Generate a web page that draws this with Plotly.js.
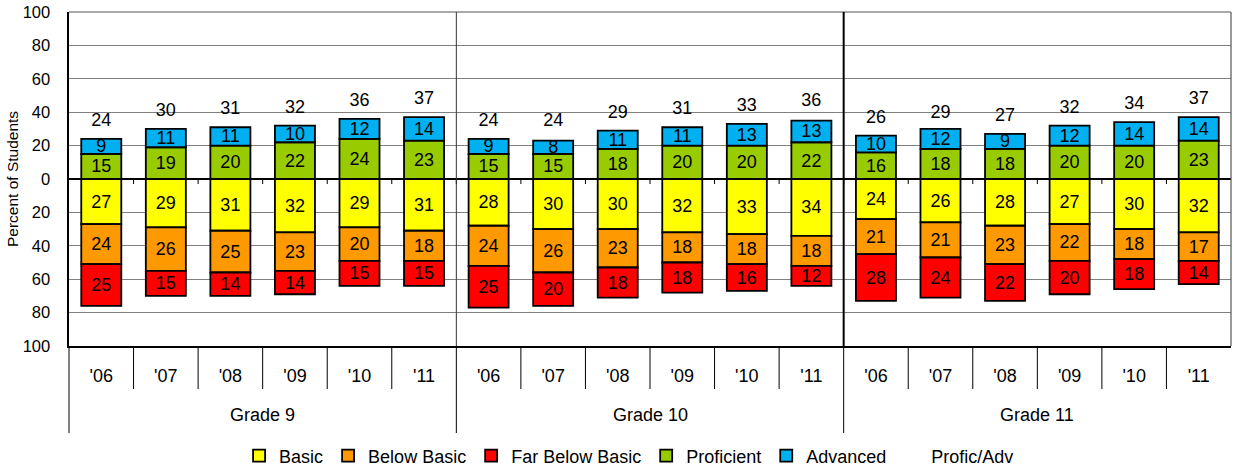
<!DOCTYPE html>
<html>
<head>
<meta charset="utf-8">
<script src="https://cdn.plot.ly/plotly-3.0.1.min.js"></script>
<style>
html,body{margin:0;padding:0;background:#fff;}
#chart{width:1233px;height:467px;}
</style>
</head>
<body>
<div id="chart"></div>
<script>
// ---- data ----
const grades = ['Grade 9', 'Grade 10', 'Grade 11'];
const years = ["'06", "'07", "'08", "'09", "'10", "'11"];
const basic =         [27, 29, 31, 32, 29, 31,  28, 30, 30, 32, 33, 34,  24, 26, 28, 27, 30, 32];
const belowBasic =    [24, 26, 25, 23, 20, 18,  24, 26, 23, 18, 18, 18,  21, 21, 23, 22, 18, 17];
const farBelowBasic = [25, 15, 14, 14, 15, 15,  25, 20, 18, 18, 16, 12,  28, 24, 22, 20, 18, 14];
const proficient =    [15, 19, 20, 22, 24, 23,  15, 15, 18, 20, 20, 22,  16, 18, 18, 20, 20, 23];
const advanced =      [ 9, 11, 11, 10, 12, 14,   9,  8, 11, 11, 13, 13,  10, 12,  9, 12, 14, 14];
const proficAdv =     [24, 30, 31, 32, 36, 37,  24, 24, 29, 31, 33, 36,  26, 29, 27, 32, 34, 37];
const yTickVals = [-100, -80, -60, -40, -20, 0, 20, 40, 60, 80, 100];
const yTickText = ['100', '80', '60', '40', '20', '0', '20', '40', '60', '80', '100'];

// ---- build ----
const nY = years.length;
const idx = [];
const tickText = [];
grades.forEach((g, gi) => years.forEach((y, yi) => { idx.push(gi * nY + yi); tickText.push(y); }));

const font = 'Liberation Sans, Arial, sans-serif';
function barTrace(name, vals, color, neg) {
  return {
    type: 'bar', name: name, x: idx,
    y: vals.map(v => neg ? -v : v),
    text: vals.map(String),
    textposition: 'inside', insidetextanchor: 'middle', textangle: 0,
    constraintext: 'none',
    textfont: {family: font, size: 18, color: '#000'},
    marker: {color: color, line: {color: '#000', width: 1.8}},
    hoverinfo: 'skip'
  };
}
const traces = [
  barTrace('Basic', basic, '#FFFF00', true),
  barTrace('Below Basic', belowBasic, '#FF9900', true),
  barTrace('Far Below Basic', farBelowBasic, '#FF0000', true),
  barTrace('Proficient', proficient, '#99CC00', false),
  barTrace('Advanced', advanced, '#00B0F0', false),
  {
    type: 'scatter', mode: 'markers+text', name: 'Profic/Adv',
    x: idx, y: proficAdv, text: proficAdv.map(String),
    textposition: 'top center',
    textfont: {family: font, size: 18, color: '#000'},
    marker: {size: 12, color: 'rgba(0,0,0,0)'},
    hoverinfo: 'skip', cliponaxis: false
  }
];

const plotH = 334;
const yearSepBottom = -(389 - 346) / plotH;
const gradeSepBottom = -(433 - 346) / plotH;
const gradeLabelY = -(415 - 346) / plotH;

const shapes = [];
const annotations = [];
// top & right border
shapes.push({type: 'line', xref: 'paper', yref: 'paper', x0: 0, x1: 1, y0: 1, y1: 1, line: {color: '#555', width: 1.2}});
shapes.push({type: 'line', xref: 'paper', yref: 'paper', x0: 1, x1: 1, y0: 0, y1: 1, line: {color: '#555', width: 1.2}});
// year separators below axis and small ticks at zero line
for (let i = 0; i < idx.length - 1; i++) {
  const xb = i + 0.5;
  const isGrade = (i + 1) % nY === 0;
  shapes.push({type: 'line', xref: 'x', yref: 'paper', x0: xb, x1: xb, y0: 0, y1: isGrade ? gradeSepBottom : yearSepBottom, line: {color: '#000', width: 1}});
  shapes.push({type: 'line', xref: 'x', yref: 'y', x0: xb, x1: xb, y0: 0, y1: -3, line: {color: '#000', width: 1}});
}
// left edge separator below axis
shapes.push({type: 'line', xref: 'paper', yref: 'paper', x0: 0, x1: 0, y0: 0, y1: gradeSepBottom, line: {color: '#000', width: 1}});
// grade dividers inside plot
shapes.push({type: 'line', xref: 'x', yref: 'paper', x0: nY - 0.5, x1: nY - 0.5, y0: 0, y1: 1, line: {color: '#333', width: 1}});
shapes.push({type: 'line', xref: 'x', yref: 'paper', x0: 2 * nY - 0.5, x1: 2 * nY - 0.5, y0: 0, y1: 1, line: {color: '#000', width: 2}});
// grade labels
grades.forEach((g, gi) => {
  annotations.push({xref: 'x', yref: 'paper', x: gi * nY + (nY - 1) / 2, y: gradeLabelY, text: g, showarrow: false, yanchor: 'middle', font: {family: font, size: 18, color: '#000'}});
});

const layout = {
  width: 1233, height: 467,
  margin: {l: 69, r: 2, t: 12, b: 121, autoexpand: false},
  paper_bgcolor: '#fff', plot_bgcolor: '#fff',
  barmode: 'relative', bargap: 0.38,
  showlegend: true,
  uniformtext: {mode: 'show', minsize: 18},
  font: {family: font, color: '#000'},
  xaxis: {
    range: [-0.5, idx.length - 0.5], tickvals: idx, ticktext: tickText,
    showgrid: false, zeroline: false, showline: true, linecolor: '#000', linewidth: 1.5,
    ticks: '', ticklabelstandoff: 13, tickfont: {family: font, size: 18, color: '#000'}, fixedrange: true
  },
  yaxis: {
    range: [-100, 100], tickvals: yTickVals, ticktext: yTickText,
    showgrid: true, gridcolor: '#808080', gridwidth: 1,
    zeroline: true, zerolinecolor: '#000', zerolinewidth: 2,
    showline: true, linecolor: '#000', linewidth: 2.5,
    ticks: '', ticklabelstandoff: 13, tickfont: {family: font, size: 16.5, color: '#000'},
    title: {text: 'Percent of Students', font: {family: font, size: 15.5, color: '#000'}, standoff: 0},
    fixedrange: true
  },
  legend: {
    orientation: 'h', x: 0.482, xanchor: 'center',
    yref: 'container', y: (467 - 456) / 467, yanchor: 'middle',
    font: {family: font, size: 18, color: '#000'}, traceorder: 'normal', itemclick: false
  },
  shapes: shapes,
  annotations: annotations
};

Plotly.newPlot('chart', traces, layout, {displayModeBar: false, staticPlot: true});
</script>
</body>
</html>
